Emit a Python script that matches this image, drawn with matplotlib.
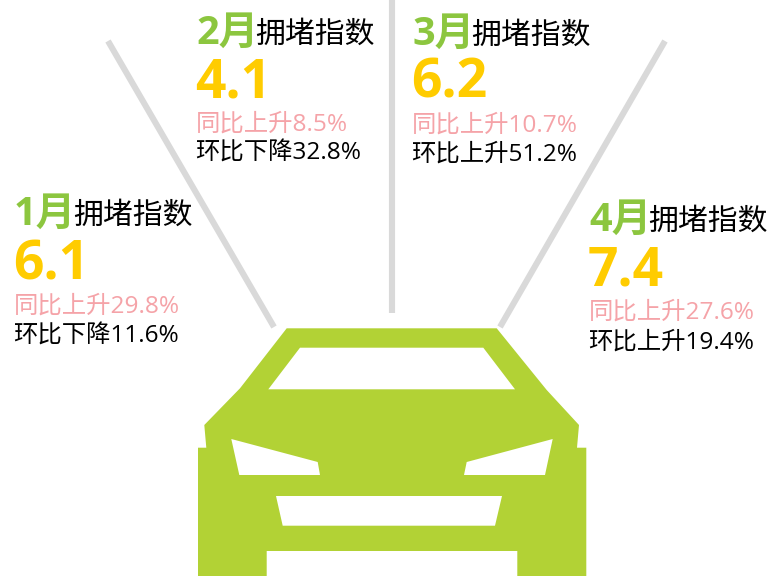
import matplotlib
matplotlib.use("Agg")
import matplotlib.pyplot as plt
from matplotlib.patches import Polygon

months = ["1月", "2月", "3月", "4月"]
values = ["6.1", "4.1", "6.2", "7.4"]
yoy = ["同比上升29.8%", "同比上升8.5%", "同比上升10.7%", "同比上升27.6%"]
mom = ["环比下降11.6%", "环比下降32.8%", "环比上升51.2%", "环比上升19.4%"]

# block layout in pixels: left edge and centre of each text row
block_x = [15, 197, 413, 590]
month_y = [214, 33, 34, 220]
value_y = [265, 83, 83, 271]
yoy_y = [307, 125, 126, 313]
mom_y = [337, 154, 155, 343]

rays = [((108, 41), (274, 327)), ((392, 0), (392, 313)), ((665, 41), (500, 327))]

body = [(286.7, 328.3), (496.7, 328.3), (546.7, 390), (579, 425), (577, 447.7),
        (586.3, 447.7), (586.3, 576), (517.3, 576), (517.3, 551), (266.7, 551),
        (266.7, 576), (198, 576), (198, 447.7), (206.3, 447.7), (204.3, 425), (240, 388.3)]
holes = [
    [(300, 347.7), (483.3, 347.7), (515, 389.3), (268.3, 389.3)],
    [(231.3, 439), (317.7, 462), (320, 475), (239.3, 475)],
    [(552.7, 439), (466.7, 462), (464, 475), (545, 475)],
    [(276, 496), (502, 496), (495, 525.7), (282.7, 525.7)],
]

plt.rcParams['font.family'] = ['Open Sans', 'Noto Sans CJK SC', 'DejaVu Sans']

fig = plt.figure(figsize=(7.7, 5.76), dpi=100)
ax = fig.add_axes([0, 0, 1, 1])
ax.set_xlim(0, 770)
ax.set_ylim(576, 0)
ax.axis("off")

for a, b in rays:
    ax.plot([a[0], b[0]], [a[1], b[1]], color="#d9d9d9", lw=4.4, solid_capstyle="butt")

ax.add_patch(Polygon(body, closed=True, fc="#b2d235", ec="none"))
for h in holes:
    ax.add_patch(Polygon(h, closed=True, fc="white", ec="none"))

for i in range(4):
    x = block_x[i]
    ax.text(x - 1, month_y[i], months[i], color="#8cc63f", fontsize=28.5, fontweight="bold", va="center", ha="left")
    ax.text(x + 58, month_y[i] + 2, "拥堵指数", color="black", fontsize=21.5, va="center", ha="left")
    ax.text(x - 2, value_y[i], values[i], color="#ffcc00", fontsize=38.5, fontweight="bold", va="center", ha="left")
    ax.text(x - 1, yoy_y[i], yoy[i], color="#f5a3a8", fontsize=17.6, va="center", ha="left")
    ax.text(x - 2, mom_y[i], mom[i], color="black", fontsize=17.6, va="center", ha="left")

fig.savefig("out.png", dpi=100)
